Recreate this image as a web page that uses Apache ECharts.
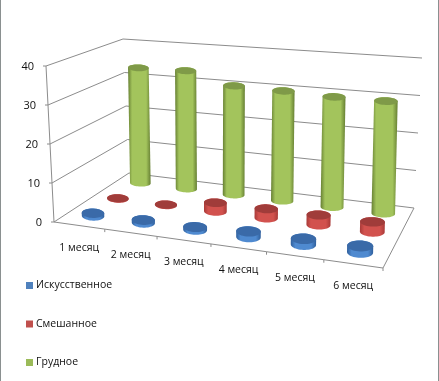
<!DOCTYPE html>
<html><head><meta charset="utf-8">
<style>html,body{margin:0;padding:0;background:#fff}#c{width:439px;height:381px}</style>
<script src="https://cdn.jsdelivr.net/npm/echarts@6/dist/echarts.min.js"></script>
</head><body><div id="c"></div>
<script>
var categories = ['1 месяц','2 месяц','3 месяц','4 месяц','5 месяц','6 месяц'];
var seriesNames = ['Искусственное','Смешанное','Грудное'];
var artificial = [0.7,0.7,0.7,1.4,1.4,1.5];
var mixed = [0.1,0.1,2.3,2.4,2.5,2.5];
var breast = [33.3,33.5,30.3,30,29.5,29.5];
var yTicks = [0,10,20,30,40];

// perspective box: screen position of the chart corners
var floorQuad = [[54,222],[383,268],[414,208],[129,173]];
var topQuad = [[46,66],[390,90],[422,58],[123,39]];
var rows = [0.17,0.5,0.83];
var flatten = [0.42,0.38,0.33];

function homography(q){
  var x0=q[0][0],y0=q[0][1],x1=q[1][0],y1=q[1][1],x2=q[2][0],y2=q[2][1],x3=q[3][0],y3=q[3][1];
  var dx1=x1-x2,dx2=x3-x2,sx=x0-x1+x2-x3,dy1=y1-y2,dy2=y3-y2,sy=y0-y1+y2-y3;
  var d=dx1*dy2-dx2*dy1,g=(sx*dy2-dx2*sy)/d,h=(dx1*sy-sx*dy1)/d;
  var a=x1-x0+g*x1,b=x3-x0+h*x3,c=x0,e=y1-y0+g*y1,f=y3-y0+h*y3;
  return function(u,v){var w=g*u+h*v+1;return [(a*u+b*v+c)/w,(e*u+f*v+y0)/w];};
}
var floorH=homography(floorQuad), topH=homography(topQuad);
function project(u,v,w){
  var p=floorH(u,v),t=topH(u,v);
  return [p[0]+(t[0]-p[0])*w,p[1]+(t[1]-p[1])*w];
}
var grid={left:60,top:60,width:300,height:160};
function fracs(api,i,val){
  var c=api.coord([i,val]);
  return [(c[0]-grid.left)/grid.width,(grid.top+grid.height-c[1])/grid.height];
}
function ellipsePts(c,rx,ry,from,to,n){
  var out=[];
  for(var k=0;k<=n;k++){var a=from+(to-from)*k/n;out.push([c[0]+rx*Math.cos(a),c[1]+ry*Math.sin(a)+rx*0.03*Math.cos(a)]);}
  return out;
}
var palette=[
 {edge:'#2f5f9c',mid:'#4f8ad0',top:'#3a6aa8'},
 {edge:'#a83a38',mid:'#d2524e',top:'#a03c3a'},
 {edge:'#667f33',mid:'#a3c45c',top:'#7f9a48'}
];
function cylinder(si){
  return function(params,api){
    var i=api.value(0),val=api.value(1);
    var f=fracs(api,i,val),u=f[0],v=rows[si];
    var b=project(u,v,0),t=project(u,v,f[1]);
    t=[b[0]+(t[0]-b[0])*0.5,t[1]];
    var a0=project(u-0.03,v,0),a1=project(u+0.03,v,0);
    var rx=Math.abs(a1[0]-a0[0])/2*1.26,ry=rx*flatten[si];
    var p=palette[si];
    var body=ellipsePts(b,rx,ry,0,Math.PI,24).concat(ellipsePts(t,rx,ry,Math.PI,2*Math.PI,24));
    return {type:'group',children:[
      {type:'polygon',shape:{points:body},style:{fill:{type:'linear',x:0,y:0,x2:1,y2:0,colorStops:[
        {offset:0,color:p.edge},{offset:0.18,color:p.mid},{offset:0.8,color:p.mid},{offset:1,color:p.edge}]}}},
      {type:'polygon',shape:{points:ellipsePts(t,rx,ry,0,2*Math.PI,40)},style:{fill:p.top}}
    ]};
  };
}
var lineCol='#8c8c8c';
function seg(a,b){return {type:'line',shape:{x1:a[0],y1:a[1],x2:b[0],y2:b[1]},style:{stroke:lineCol,lineWidth:1}};}
var txtFont='"Open Sans",sans-serif';
function yFrame(params,api){
  var val=api.value(0),f=fracs(api,0,val)[1];
  var a=project(0,0,f),b=project(0,1,f),c=project(1,1,f);
  return {type:'group',children:[
    seg(a,b),seg(b,c),seg([a[0]-3,a[1]],a),
    {type:'text',style:{text:String(val),x:a[0]-12,y:a[1]+1,align:'right',verticalAlign:'middle',fill:'#111',font:'11px '+txtFont}}
  ]};
}
function xFrame(params,api){
  var i=api.value(0),n=categories.length;
  var u0=i/n,u1=(i+1)/n;
  var a=project(u0,0,0),b=project(u1,0,0),m=project((u0+u1)/2,0,0);
  return {type:'group',children:[
    seg(a,b),seg(b,[b[0],b[1]+3]),
    {type:'text',style:{text:categories[i],x:m[0],y:m[1]+22,align:'center',verticalAlign:'middle',fill:'#111',font:'10.5px '+txtFont}}
  ]};
}
function edges(params,api){
  return {type:'group',children:[
    seg(project(0,0,0),project(0,0,1)),
    seg(project(1,0,0),project(1,1,0))
  ]};
}
var chart=echarts.init(document.getElementById('c'));
function cyl(name,data,si,z){
  return {name:name,type:'custom',coordinateSystem:'cartesian2d',z:z,clip:false,silent:true,animation:false,
    itemStyle:{color:['#4f81bd','#c0504d','#9bbb59'][si]},
    encode:{x:0,y:1},
    data:data.map(function(d,i){return [i,d];}),renderItem:cylinder(si)};
}
chart.setOption({
  animation:false,backgroundColor:'#fff',
  grid:grid,
  xAxis:{type:'category',data:categories,show:false},
  yAxis:{type:'value',min:0,max:40,interval:10,show:false},
  legend:{orient:'vertical',left:21,top:275,itemWidth:7,itemHeight:7,itemGap:27.5,icon:'rect',selectedMode:false,
    data:seriesNames,textStyle:{fontFamily:'Open Sans',fontSize:10.5,color:'#111',padding:[0,0,0,-2]}},
  graphic:[
    {type:'rect',shape:{x:0,y:0,width:1,height:381},style:{fill:'#8a9090'}},
    {type:'rect',shape:{x:438,y:0,width:1,height:381},style:{fill:'#8a9090'}}
  ],
  series:[
    {type:'custom',name:'wall',z:1,clip:false,silent:true,data:yTicks.map(function(t){return [t];}),renderItem:yFrame,encode:{y:0}},
    {type:'custom',name:'front',z:1,clip:false,silent:true,data:categories.map(function(c,i){return [i];}),renderItem:xFrame,encode:{x:0}},
    {type:'custom',name:'edge',z:1,clip:false,silent:true,data:[[0]],renderItem:edges},
    cyl(seriesNames[0],artificial,0,6),
    cyl(seriesNames[1],mixed,1,5),
    cyl(seriesNames[2],breast,2,4)
  ]
});
</script></body></html>
